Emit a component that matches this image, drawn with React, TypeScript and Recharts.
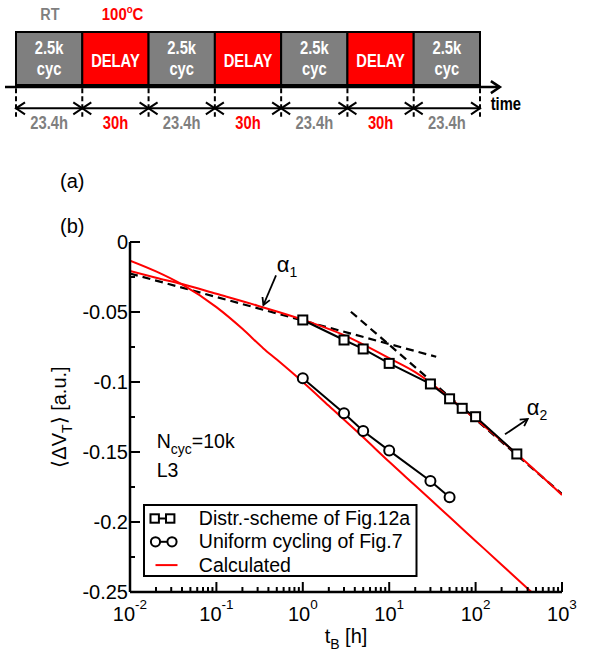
import React from "react";
import {
  ComposedChart,
  Line,
  XAxis,
  YAxis,
  Legend,
  ReferenceArea,
  ReferenceLine,
  ReferenceDot,
} from "recharts";

const FONT = '"Liberation Sans", Arial, Helvetica, sans-serif';
const BLACK = "#000000";
const RED = "#ff0000";
const GRAY = "#7f7f7f";

// ---- (a) stress / delay sequence ----
const PHASE_KIND = ["cyc", "delay", "cyc", "delay", "cyc", "delay", "cyc"];
const PHASE_TIME = ["23.4h", "30h", "23.4h", "30h", "23.4h", "30h", "23.4h"];

// ---- (b) <dVT> vs bake time tB ----
const SQ_X = [1, 3, 5, 10, 30, 50, 70, 100, 300];
const SQ_Y = [-0.0557, -0.07, -0.0764, -0.0867, -0.1014, -0.112, -0.1188, -0.1248, -0.1514];

const CI_X = [1, 3, 5, 10, 30, 50];
const CI_Y = [-0.0974, -0.1224, -0.135, -0.149, -0.1707, -0.1824];

const CALC_DISTR_X = [0.01, 0.02, 0.04, 0.1, 0.3, 1, 3, 10, 20, 30, 50, 100, 300, 1000];
const CALC_DISTR_Y = [-0.0207, -0.0255, -0.03, -0.037, -0.0455, -0.0555, -0.0665, -0.083, -0.093, -0.1005, -0.1115, -0.1265, -0.1515, -0.1807];

const CALC_UNIF_X = [0.01, 0.02, 0.04, 0.1, 0.2, 0.35, 0.5, 1, 2, 5, 10, 20, 50, 100, 200, 500];
const CALC_UNIF_Y = [-0.0133, -0.021, -0.0303, -0.0465, -0.062, -0.076, -0.084, -0.1, -0.117, -0.1395, -0.157, -0.174, -0.1965, -0.2135, -0.2305, -0.253];

// power-law fits (alpha1, alpha2)
const FIT1_X = [0.01, 35];
const FIT1_Y = [-0.0225, -0.082];
const FIT2_X = [3.6, 1000];
const FIT2_Y = [-0.0498, -0.18];

const X_MAJOR = [0.01, 0.1, 1, 10, 100, 1000];
const X_MINOR_STEPS = [2, 3, 4, 5, 6, 7, 8, 9];
const Y_MAJOR = [-0.25, -0.2, -0.15, -0.1, -0.05, 0];
const Y_MINOR = [-0.225, -0.175, -0.125, -0.075, -0.025];

const LEGEND_NAMES = ["Distr.-scheme of Fig.12a", "Uniform cycling of Fig.7", "Calculated"];

const zip = (xs: number[], ys: number[]) => xs.map((x, i) => ({ x, y: ys[i] }));

const squares = zip(SQ_X, SQ_Y);
const circles = zip(CI_X, CI_Y);
const calcDistr = zip(CALC_DISTR_X, CALC_DISTR_Y);
const calcUnif = zip(CALC_UNIF_X, CALC_UNIF_Y);
const fit1 = zip(FIT1_X, FIT1_Y);
const fit2 = zip(FIT2_X, FIT2_Y);

const X_TICKS = [
  ...X_MAJOR,
  ...X_MAJOR.slice(0, -1).flatMap((d) => X_MINOR_STEPS.map((m) => d * m)),
].sort((a, b) => a - b);
const Y_TICKS = [...Y_MAJOR, ...Y_MINOR].sort((a, b) => a - b);

const isMajorX = (v: number) => X_MAJOR.some((m) => Math.abs(m - v) / m < 1e-6);
const isMajorY = (v: number) => Y_MAJOR.some((m) => Math.abs(m - v) < 1e-6);

// --- small drawing helpers ---
function chevron(x: number, y: number, dx: number, dy: number, len: number, half: number) {
  const bx = x - dx * len;
  const by = y - dy * len;
  const px = -dy;
  const py = dx;
  return `M${bx + px * half},${by + py * half} L${x},${y} L${bx - px * half},${by - py * half}`;
}

const arrowShape = (start: boolean, end: boolean, width: number, len = 9, half = 6) => (p: any) => {
  const { x1, y1, x2, y2 } = p;
  const L = Math.hypot(x2 - x1, y2 - y1) || 1;
  const dx = (x2 - x1) / L;
  const dy = (y2 - y1) / L;
  return (
    <g>
      <line x1={x1} y1={y1} x2={x2} y2={y2} stroke={BLACK} strokeWidth={width} />
      {end && <path d={chevron(x2, y2, dx, dy, len, half)} fill="none" stroke={BLACK} strokeWidth={width} />}
      {start && <path d={chevron(x1, y1, -dx, -dy, len, half)} fill="none" stroke={BLACK} strokeWidth={width} />}
    </g>
  );
};

function Squished({ x, y, children, fill = "#fff", size = 18, sx = 0.82 }: any) {
  return (
    <text
      transform={`translate(${x},${y}) scale(${sx},1)`}
      x={0}
      y={0}
      textAnchor="middle"
      fontFamily={FONT}
      fontWeight="bold"
      fontSize={size}
      fill={fill}
    >
      {children}
    </text>
  );
}

function PhaseText({ viewBox, kind }: any) {
  const { x, y, width } = viewBox;
  const cx = x + width / 2;
  if (kind === "cyc") {
    return (
      <g>
        <Squished x={cx} y={y + 21.5}>2.5k</Squished>
        <Squished x={cx} y={y + 43}>cyc</Squished>
      </g>
    );
  }
  return <Squished x={cx} y={y + 34.7}>DELAY</Squished>;
}

function Timeline() {
  const bounds = Array.from({ length: PHASE_KIND.length + 1 }, (_, i) => i);
  return (
    <ComposedChart width={616} height={140} margin={{ top: 32, right: 136, bottom: 55, left: 16 }} data={[]}>
      <XAxis type="number" dataKey="u" domain={[0, 7]} hide allowDataOverflow />
      <YAxis type="number" domain={[0, 1]} hide allowDataOverflow />
      {PHASE_KIND.map((k, i) => (
        <ReferenceArea
          key={`box-${i}`}
          x1={i}
          x2={i + 1}
          y1={0}
          y2={1}
          fill={k === "cyc" ? GRAY : RED}
          fillOpacity={1}
          stroke={BLACK}
          strokeWidth={2}
          ifOverflow="visible"
          label={{ content: (lp: any) => <PhaseText viewBox={lp.viewBox} kind={k} /> }}
        />
      ))}
      <ReferenceLine
        segment={[{ x: -0.166, y: -0.04 }, { x: 7.3, y: -0.04 }]}
        ifOverflow="visible"
        shape={arrowShape(false, true, 2.5, 9, 6)}
      />
      {bounds.map((b) => (
        <ReferenceLine
          key={`tick-${b}`}
          segment={[{ x: b, y: -0.06 }, { x: b, y: -0.6 }]}
          ifOverflow="visible"
          stroke={BLACK}
          strokeWidth={2}
          strokeDasharray="5 3"
        />
      ))}
      {PHASE_TIME.map((t, i) => (
        <ReferenceLine
          key={`span-${i}`}
          segment={[{ x: i, y: -0.44 }, { x: i + 1, y: -0.44 }]}
          ifOverflow="visible"
          shape={arrowShape(true, true, 2, 9, 6)}
        />
      ))}
      {PHASE_TIME.map((t, i) => (
        <ReferenceDot
          key={`dur-${i}`}
          x={i + 0.5}
          y={-0.83}
          ifOverflow="visible"
          shape={(p: any) => (
            <Squished x={p.cx} y={p.cy} fill={PHASE_KIND[i] === "delay" ? RED : GRAY}>
              {t}
            </Squished>
          )}
        />
      ))}
      <ReferenceDot
        x={0.513}
        y={1.226}
        ifOverflow="visible"
        shape={(p: any) => (
          <Squished x={p.cx} y={p.cy} fill={GRAY} size={17} sx={0.85}>
            RT
          </Squished>
        )}
      />
      <ReferenceDot
        x={1.608}
        y={1.226}
        ifOverflow="visible"
        shape={(p: any) => (
          <Squished x={p.cx} y={p.cy} fill={RED} size={17} sx={0.88}>
            100<tspan dy={-7} fontSize={11}>o</tspan>
            <tspan dy={7}>C</tspan>
          </Squished>
        )}
      />
      <ReferenceDot
        x={7.39}
        y={-0.472}
        ifOverflow="visible"
        shape={(p: any) => (
          <Squished x={p.cx} y={p.cy} fill={BLACK} size={18} sx={0.82}>
            time
          </Squished>
        )}
      />
    </ComposedChart>
  );
}

// --- (b) axis ticks: inward, major + minor ---
const xTick = (side: "bottom" | "top") => (props: any) => {
  const { x, y, payload } = props;
  const v = payload.value;
  const major = isMajorX(v);
  const len = major ? 10 : 5;
  const dir = side === "bottom" ? -1 : 1;
  return (
    <g>
      <line x1={x} x2={x} y1={y} y2={y + dir * len} stroke={BLACK} strokeWidth={2} />
      {side === "bottom" && major && (
        <text x={x} y={y + 29} textAnchor="middle" fontSize={20} fontFamily={FONT} fill={BLACK}>
          10
          <tspan dy={-12} fontSize={13.5}>
            {Math.round(Math.log10(v))}
          </tspan>
        </text>
      )}
    </g>
  );
};

const yTick = (side: "left" | "right") => (props: any) => {
  const { x, y, payload } = props;
  const v = payload.value;
  const major = isMajorY(v);
  const len = major ? 10 : 5;
  const dir = side === "left" ? 1 : -1;
  return (
    <g>
      <line x1={x} x2={x + dir * len} y1={y} y2={y} stroke={BLACK} strokeWidth={2} />
      {side === "left" && major && (
        <text x={x - 2} y={y + 7} textAnchor="end" fontSize={20} fontFamily={FONT} fill={BLACK}>
          {v === 0 ? "0" : String(v)}
        </text>
      )}
    </g>
  );
};

const SquareDot = (p: any) => (
  <rect key={`sq-${p.index}`} x={p.cx - 4.5} y={p.cy - 4.5} width={9} height={9} fill="#fff" stroke={BLACK} strokeWidth={2} />
);
const CircleDot = (p: any) => (
  <circle key={`ci-${p.index}`} cx={p.cx} cy={p.cy} r={5} fill="#fff" stroke={BLACK} strokeWidth={2} />
);

function LegendBox(props: any) {
  const items = (props.payload || [])
    .filter((it: any) => LEGEND_NAMES.includes(it.value))
    .sort((a: any, b: any) => LEGEND_NAMES.indexOf(a.value) - LEGEND_NAMES.indexOf(b.value));
  return (
    <svg width={275} height={74} style={{ display: "block" }}>
      <rect x={1} y={1} width={272.5} height={71} fill="#fff" stroke={BLACK} strokeWidth={2} />
      {items.map((it: any, i: number) => {
        const cy = 14.5 + i * 23.3;
        const idx = LEGEND_NAMES.indexOf(it.value);
        return (
          <g key={it.value}>
            {idx === 0 && (
              <g>
                <line x1={11.7} x2={27.2} y1={cy} y2={cy} stroke={BLACK} strokeWidth={2} />
                {[11.7, 27.2].map((cx) => (
                  <rect key={cx} x={cx - 4.2} y={cy - 4.2} width={8.4} height={8.4} fill="#fff" stroke={BLACK} strokeWidth={2} />
                ))}
              </g>
            )}
            {idx === 1 && (
              <g>
                <line x1={12.5} x2={29} y1={cy} y2={cy} stroke={BLACK} strokeWidth={2} />
                {[12.5, 29].map((cx) => (
                  <circle key={cx} cx={cx} cy={cy} r={4.6} fill="#fff" stroke={BLACK} strokeWidth={2} />
                ))}
              </g>
            )}
            {idx === 2 && <line x1={12.5} x2={34.5} y1={cy} y2={cy} stroke={RED} strokeWidth={2} />}
            <text x={55.8} y={cy + 6.5} fontSize={19.5} fontFamily={FONT} fill={BLACK}>
              {it.value}
            </text>
          </g>
        );
      })}
    </svg>
  );
}

const YLabel = (props: any) => {
  const { viewBox } = props;
  const cx = viewBox.x + 66;
  const cy = viewBox.y + viewBox.height / 2;
  return (
    <text transform={`rotate(-90 ${cx} ${cy})`} x={cx} y={cy} textAnchor="middle" fontSize={20} fontFamily={FONT} fill={BLACK}>
      {"\u27E8\u0394V"}
      <tspan dy={6} fontSize={14}>T</tspan>
      <tspan dy={-6}>{"\u27E9 [a.u.]"}</tspan>
    </text>
  );
};

const XLabel = (props: any) => {
  const { viewBox } = props;
  const cx = viewBox.x + viewBox.width / 2;
  const cy = viewBox.y + 51;
  return (
    <text x={cx} y={cy} textAnchor="middle" fontSize={20} fontFamily={FONT} fill={BLACK}>
      t<tspan dy={6} fontSize={14}>B</tspan>
      <tspan dy={-6}> [h]</tspan>
    </text>
  );
};

const axisLine = { stroke: BLACK, strokeWidth: 2.5 };

function DecayChart() {
  return (
    <ComposedChart width={616} height={516} margin={{ top: 102, right: 54, bottom: 0, left: 0 }}>
      <XAxis
        dataKey="x"
        type="number"
        scale="log"
        domain={[0.01, 1000]}
        allowDataOverflow
        ticks={X_TICKS}
        interval={0}
        tickSize={0}
        tickMargin={0}
        height={64}
        axisLine={axisLine}
        tickLine={false}
        tick={xTick("bottom")}
        label={{ content: XLabel }}
      />
      <XAxis
        xAxisId="top"
        orientation="top"
        dataKey="x"
        type="number"
        scale="log"
        domain={[0.01, 1000]}
        allowDataOverflow
        ticks={X_TICKS}
        interval={0}
        tickSize={0}
        tickMargin={0}
        height={0}
        axisLine={axisLine}
        tickLine={false}
        tick={xTick("top")}
      />
      <YAxis
        type="number"
        domain={[-0.25, 0]}
        allowDataOverflow
        ticks={Y_TICKS}
        interval={0}
        tickSize={0}
        tickMargin={0}
        width={130}
        axisLine={axisLine}
        tickLine={false}
        tick={yTick("left")}
        label={{ content: YLabel }}
      />
      <YAxis
        yAxisId="right"
        orientation="right"
        type="number"
        domain={[-0.25, 0]}
        allowDataOverflow
        ticks={Y_TICKS}
        interval={0}
        tickSize={0}
        tickMargin={0}
        width={0}
        axisLine={axisLine}
        tickLine={false}
        tick={yTick("right")}
      />
      <Legend
        layout="vertical"
        align="center"
        verticalAlign="middle"
        wrapperStyle={{ left: 142.5, top: 363.5, width: 275, height: 74 }}
        content={LegendBox}
      />

      <Line data={fit1} dataKey="y" name="fit1" type="linear" stroke={BLACK} strokeWidth={2.2} strokeDasharray="8 5" dot={false} activeDot={false} legendType="none" isAnimationActive={false} />
      <Line data={fit2} dataKey="y" name="fit2" type="linear" stroke={BLACK} strokeWidth={2.2} strokeDasharray="8 5" dot={false} activeDot={false} legendType="none" isAnimationActive={false} />
      <Line data={calcUnif} dataKey="y" name="calc-uniform" type="monotone" stroke={RED} strokeWidth={2} dot={false} activeDot={false} legendType="none" isAnimationActive={false} />
      <Line data={calcDistr} dataKey="y" name="Calculated" type="monotone" stroke={RED} strokeWidth={2} dot={false} activeDot={false} isAnimationActive={false} />
      <Line data={squares} dataKey="y" name="Distr.-scheme of Fig.12a" type="linear" stroke={BLACK} strokeWidth={2} dot={SquareDot} activeDot={false} isAnimationActive={false} />
      <Line data={circles} dataKey="y" name="Uniform cycling of Fig.7" type="linear" stroke={BLACK} strokeWidth={2} dot={CircleDot} activeDot={false} isAnimationActive={false} />

      {/* alpha annotations */}
      <ReferenceLine segment={[{ x: 0.49, y: -0.0238 }, { x: 0.35, y: -0.045 }]} ifOverflow="visible" shape={arrowShape(false, true, 1.8, 7, 4)} />
      <ReferenceDot
        x={0.5}
        y={-0.0214}
        ifOverflow="visible"
        shape={(p: any) => (
          <text x={p.cx} y={p.cy} fontSize={22} fontFamily={FONT} fill={BLACK}>
            {"\u03B1"}
            <tspan dy={5} fontSize={14}>1</tspan>
          </text>
        )}
      />
      <ReferenceLine segment={[{ x: 219, y: -0.1374 }, { x: 401, y: -0.1264 }]} ifOverflow="visible" shape={arrowShape(false, true, 1.8, 7, 4)} />
      <ReferenceDot
        x={390}
        y={-0.1236}
        ifOverflow="visible"
        shape={(p: any) => (
          <text x={p.cx} y={p.cy} fontSize={22} fontFamily={FONT} fill={BLACK}>
            {"\u03B1"}
            <tspan dy={5} fontSize={14}>2</tspan>
          </text>
        )}
      />
      <ReferenceDot
        x={0.0204}
        y={-0.1471}
        ifOverflow="visible"
        shape={(p: any) => (
          <text x={p.cx} y={p.cy} fontSize={19.5} fontFamily={FONT} fill={BLACK}>
            N<tspan dy={6} fontSize={14}>cyc</tspan>
            <tspan dy={-6}>=10k</tspan>
          </text>
        )}
      />
      <ReferenceDot
        x={0.0204}
        y={-0.1676}
        ifOverflow="visible"
        shape={(p: any) => (
          <text x={p.cx} y={p.cy} fontSize={19.5} fontFamily={FONT} fill={BLACK}>
            L3
          </text>
        )}
      />
    </ComposedChart>
  );
}

export default function App() {
  return (
    <div style={{ position: "absolute", left: 0, top: 0, width: 616, height: 656, background: "#fff", fontFamily: FONT }}>
      <div style={{ position: "absolute", left: 0, top: 140 }}>
        <DecayChart />
      </div>
      <div style={{ position: "absolute", left: 0, top: 0 }}>
        <Timeline />
      </div>
      <svg width={616} height={656} style={{ position: "absolute", left: 0, top: 0, pointerEvents: "none" }}>
        <text x={60} y={188} fontSize={20} fontFamily={FONT} fill={BLACK}>(a)</text>
        <text x={60} y={233} fontSize={20} fontFamily={FONT} fill={BLACK}>(b)</text>
      </svg>
    </div>
  );
}
